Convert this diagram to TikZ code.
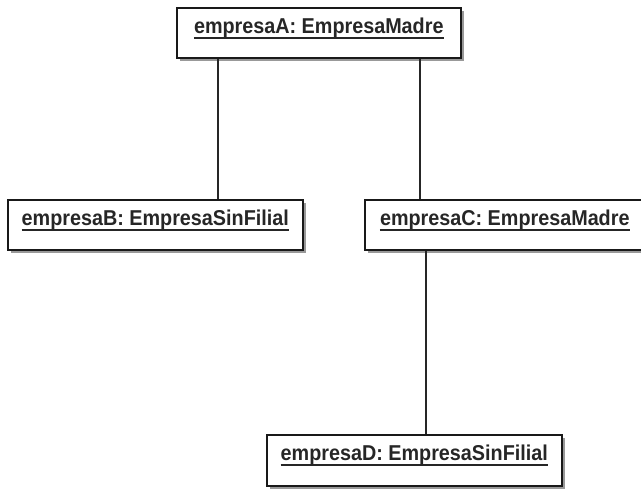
\documentclass[tikz,border=0pt]{standalone}
\usepackage{fontspec}
\setmainfont{Liberation Sans}
\newfontfamily\namefont[FakeStretch=0.92]{Liberation Sans}
\usetikzlibrary{shadows,calc}
\tikzset{
  objbox/.style={draw=black!90, line width=1.6pt, fill=white, anchor=north west,
    inner sep=0pt, minimum height=50pt,
    drop shadow={shadow xshift=3pt, shadow yshift=-3pt, fill=black!40, opacity=1}},
  objname/.style={font=\namefont\bfseries\fontsize{21.5}{25}\selectfont, inner sep=0pt, anchor=base, text=black!85},
  uline/.style={line width=1.1pt, black!85},
  link/.style={line width=1.5pt, black!85}
}
\newcommand{\objtitle}[2]{%
  \node[objname] (#1t) at ([yshift=-27pt]#1.north) {#2};
  \draw[uline] ([yshift=-4pt]#1t.base west) -- ([yshift=-4pt]#1t.base east);
}
\begin{document}
\begin{tikzpicture}[x=1pt,y=1pt]
\useasboundingbox (0,0) rectangle (641,-489);
% object boxes
\node[objbox, minimum width=284pt] (A) at (176,-7) {};
\node[objbox, minimum width=295pt] (B) at (7,-199) {};
\node[objbox, minimum width=280pt] (C) at (364,-199) {};
\node[objbox, minimum width=295pt, minimum height=51pt] (D) at (266,-434) {};
% object names
\objtitle{A}{empresaA: EmpresaMadre}
\objtitle{B}{empresaB: EmpresaSinFilial}
\objtitle{C}{empresaC: EmpresaMadre}
\objtitle{D}{empresaD: EmpresaSinFilial}
% links
\draw[link] ([xshift=42pt]A.south west) -- ([xshift=42pt]A.south west |- B.north);
\draw[link] ([xshift=244pt]A.south west) -- ([xshift=244pt]A.south west |- C.north);
\draw[link] ([xshift=62pt]C.south west) -- ([xshift=62pt]C.south west |- D.north);
\end{tikzpicture}
\end{document}
